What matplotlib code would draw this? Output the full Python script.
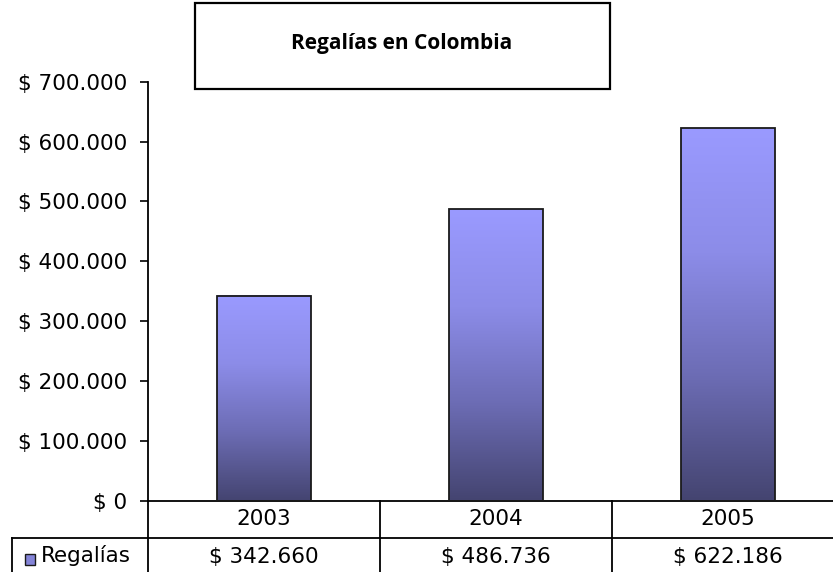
import numpy as np
import matplotlib
matplotlib.use("Agg")
import matplotlib.pyplot as plt
from matplotlib.colors import LinearSegmentedColormap
from matplotlib.patches import Rectangle

# data
years = ["2003", "2004", "2005"]
regalias = [342660, 486736, 622186]
value_labels = ["$ 342.660", "$ 486.736", "$ 622.186"]
yticks = [0, 100000, 200000, 300000, 400000, 500000, 600000, 700000]
ytick_labels = ["$ 0", "$ 100.000", "$ 200.000", "$ 300.000",
                "$ 400.000", "$ 500.000", "$ 600.000", "$ 700.000"]

W, H = 833, 572
fig = plt.figure(figsize=(W / 100, H / 100), dpi=100)
plt.rcParams['font.family'] = ['DejaVu Sans']
FS = 15.5

# axes placed in pixel terms: left 148, bottom y=500.7, top y=81.7, 232 px per column
left, right = 148, 148 + 3 * 232
top, bottom = 81.7, 500.7
ax = fig.add_axes([left / W, (H - bottom) / H, (right - left) / W, (bottom - top) / H])

x = np.arange(len(years))
bw = 0.405
bars = ax.bar(x, regalias, width=bw, color='none', edgecolor='#1a1a1a', linewidth=1.3, zorder=3)

# vertical gradient in each bar (light on top, dark at bottom)
cmap = LinearSegmentedColormap.from_list('reg', ['#444470', '#6c6cb4', '#8c8ce8', '#9a9aff'])
grad = np.linspace(0, 1, 256).reshape(-1, 1)
for b in bars:
    x0 = b.get_x()
    ax.imshow(grad, extent=[x0, x0 + b.get_width(), 0, b.get_height()], origin='lower',
              aspect='auto', cmap=cmap, zorder=2)

ax.set_xlim(-0.5, 2.5)
ax.set_ylim(0, 700000)
ax.set_yticks(yticks)
ax.set_yticklabels(ytick_labels, fontsize=FS)
ax.set_xticks([])
ax.tick_params(axis='y', length=6, width=1.2, pad=9, direction='out')
for s in ['top', 'right']:
    ax.spines[s].set_visible(False)
ax.spines['left'].set_linewidth(1.3)
ax.spines['bottom'].set_linewidth(1.3)

# data table under the axes
tr = ax.get_xaxis_transform()
row_h = 37.3 / (bottom - top)
lw = 1.3
for i in range(4):
    ax.plot([i - 0.5, i - 0.5], [0, -2 * row_h], transform=tr, color='black', lw=lw, clip_on=False)
ax.plot([-0.5 - 136 / 232, 2.5], [-row_h, -row_h], transform=tr, color='black', lw=lw, clip_on=False)
ax.plot([-0.5 - 136 / 232, -0.5 - 136 / 232], [-row_h, -2 * row_h], transform=tr, color='black',
        lw=lw, clip_on=False)
for i in range(len(years)):
    ax.text(x[i], -0.5 * row_h, years[i], transform=tr, ha='center', va='center', fontsize=FS)
    ax.text(x[i], -1.5 * row_h, value_labels[i], transform=tr, ha='center', va='center', fontsize=FS)

# legend key in table
fig.patches.append(Rectangle((25 / W, 1 - 565 / H), 10 / W, 11 / H, transform=fig.transFigure,
                             facecolor='#8484d8', edgecolor='#1a1a1a', lw=1))
fig.text(41 / W, 1 - 556 / H, "Regalías", ha='left', va='center', fontsize=FS)

# title box
fig.patches.append(Rectangle((195 / W, 1 - 89 / H), 415 / W, 86 / H, transform=fig.transFigure,
                             facecolor='white', edgecolor='black', lw=1.6))
fig.text(402 / W, 1 - 43 / H, "Regalías en Colombia", ha='center', va='center',
         fontsize=15, fontweight='bold', family=['Open Sans', 'DejaVu Sans'])

fig.savefig('out.png', dpi=100)
